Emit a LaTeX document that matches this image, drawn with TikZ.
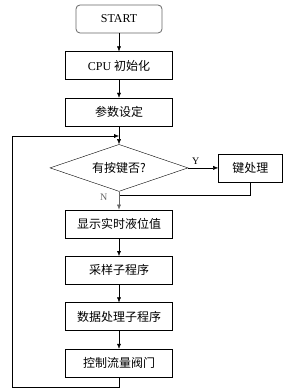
\documentclass[tikz,border=0pt]{standalone}
\usepackage{fontspec}
\setmainfont{Liberation Serif}
\newfontfamily\cjk{Noto Sans CJK SC}
\usetikzlibrary{positioning, shapes.geometric, arrows.meta}

\begin{document}
\begin{tikzpicture}[
  x=1pt, y=-1pt,
  node distance=18pt,
  box/.style={rectangle, draw=black, minimum width=107pt, minimum height=28pt, inner sep=2pt, font=\fontsize{12}{14}\selectfont\cjk},
  startbox/.style={rectangle, draw=black!60, thick, rounded corners=4pt, minimum width=86pt, minimum height=28pt, font=\fontsize{12}{14}\selectfont},
  decide/.style={diamond, draw=black, aspect=2.9, minimum width=138pt, minimum height=47pt, inner sep=0pt, font=\fontsize{12}{14}\selectfont\cjk},
  arr/.style={-{Latex[length=5pt,width=4pt]}, black},
  lbl/.style={font=\fontsize{10}{12}\selectfont}
]
\useasboundingbox (0,0) rectangle (288,390);
\node[startbox] (start) at (119,19) {START};
\node[box, below=of start] (init) {{\rmfamily CPU} 初始化};
\node[box, below=of init] (param) {参数设定};
\node[decide, below=of param] (key) {有按键否?};
\node[box, minimum width=64pt, right=30pt of key] (keyproc) {键处理};
\node[box, below=of key] (show) {显示实时液位值};
\node[box, below=of show] (sample) {采样子程序};
\node[box, below=of sample] (data) {数据处理子程序};
\node[box, below=of data] (valve) {控制流量阀门};

\coordinate (join) at ([yshift=-4pt]key.south);
\coordinate (loopB) at (12,387);
\coordinate (loopIn) at (119,136);

\draw[arr] (start) -- (init);
\draw[arr] (init) -- (param);
\draw[arr] (param) -- (key);
\draw[arr] (key) -- node[lbl, above, pos=0.25] {Y} (keyproc);
\draw (keyproc.south) |- (join);
\draw[arr, black!60] (key) -- node[lbl, left, pos=0.3, xshift=-8pt] {N} (show);
\draw[arr] (show) -- (sample);
\draw[arr] (sample) -- (data);
\draw[arr] (data) -- (valve);
\draw (valve.south) |- (loopB);
\draw[arr] (loopB) |- (loopIn);
\end{tikzpicture}
\end{document}
